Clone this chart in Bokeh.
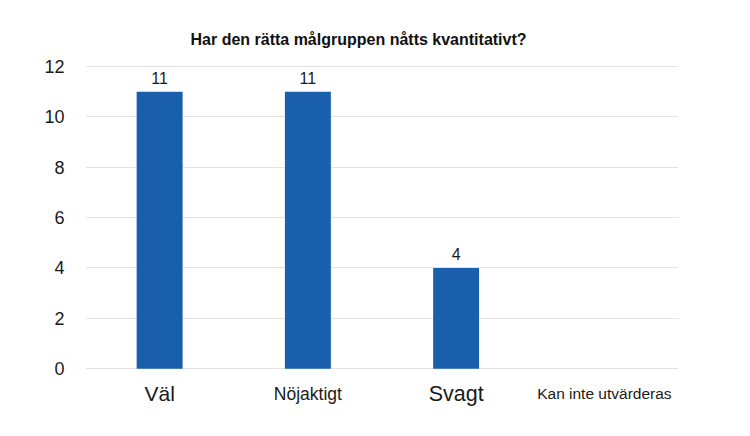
from bokeh.plotting import figure
from bokeh.models import ColumnDataSource, Range1d, LabelSet, Label, FixedTicker
from bokeh.core.properties import value
from bokeh.embed import file_html
from bokeh.resources import INLINE

# ---- data ----
categories = ["Väl", "Nöjaktigt", "Svagt", "Kan inte utvärderas"]
values = [11, 11, 4, 0]
y_ticks = [0, 2, 4, 6, 8, 10, 12]
title_text = "Har den rätta målgruppen nåtts kvantitativt?"

# ---- styles ----
label_sizes = ["21px", "17.5px", "21.5px", "15.5px"]
BAR_COLOR = "#1a5fab"
FONT = "Liberation Sans"

xpos = [i + 0.5 for i in range(len(categories))]
src = ColumnDataSource(dict(x=xpos, top=values,
                            lab=[str(v) if v else "" for v in values]))

# frame extended below 0 so category labels (drawn inside the frame) are not clipped
p = figure(width=742, height=428, output_backend="svg", toolbar_location=None,
           x_range=Range1d(0, len(categories)), y_range=Range1d(-1.7, 12.04),
           frame_width=593, frame_height=346,
           min_border_left=85, min_border_right=64, min_border_top=65, min_border_bottom=17)

p.vbar(x="x", top="top", bottom=0, width=0.31, source=src, fill_color=BAR_COLOR, line_color=None)

# value labels
p.add_layout(LabelSet(x="x", y="top", text="lab", source=src, y_offset=8,
                      text_align="center", text_baseline="alphabetic",
                      text_font=value(FONT), text_font_size=value("16px"), text_color="#1a1a1a"))
# category labels
for xi, cat, sz in zip(xpos, categories, label_sizes):
    p.add_layout(Label(x=xi, y=0, text=cat, y_offset=-25,
                       text_align="center", text_baseline="alphabetic",
                       text_font=FONT, text_font_size=sz, text_color="#1a1a1a"))

p.title.text = title_text
p.title.text_font = FONT
p.title.text_font_size = "16px"
p.title.text_font_style = "bold"
p.title.text_color = "#111111"
p.title.align = "left"
p.title.offset = 105
p.title.standoff = 31
p.title.vertical_align = "top"

p.xaxis.visible = False
p.xgrid.grid_line_color = None
p.ygrid.grid_line_color = "#e3e3e3"
p.ygrid.grid_line_width = 1
p.ygrid.ticker = FixedTicker(ticks=y_ticks)

ya = p.yaxis[0]
ya.ticker = FixedTicker(ticks=y_ticks)
ya.axis_line_color = None
ya.major_tick_line_color = None
ya.minor_tick_line_color = None
ya.major_label_standoff = 15
ya.major_label_text_font = FONT
ya.major_label_text_font_size = "18px"
ya.major_label_text_color = "#1a1a1a"

p.outline_line_color = None
p.background_fill_color = "white"
p.border_fill_color = "white"

open("out.html", "w").write(file_html(p, INLINE))
